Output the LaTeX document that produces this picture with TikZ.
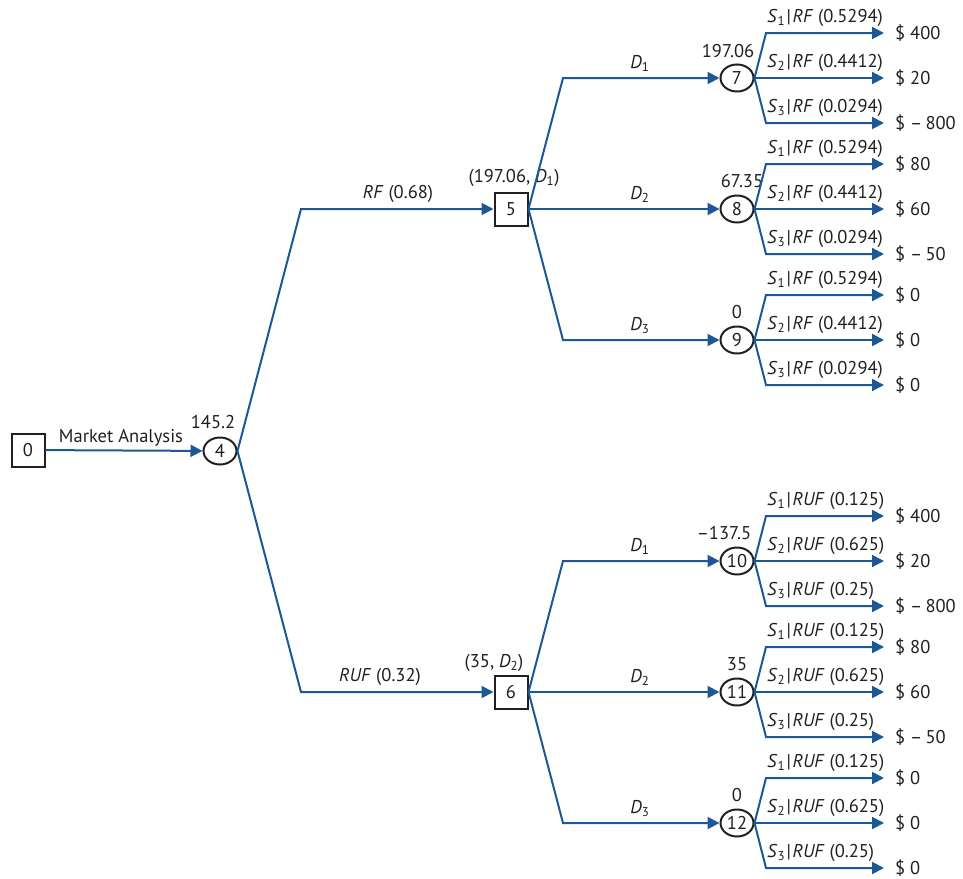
\documentclass[tikz,border=0pt]{standalone}
\usepackage{fontspec}
\setmainfont{PT Sans}
\usetikzlibrary{arrows.meta,shapes.geometric}
\definecolor{branch}{RGB}{28,88,150}
\definecolor{ink}{RGB}{35,31,32}
% conditional probability label: S_k | given (p)
\newcommand\condlabel[3]{\textit{S}\textsubscript{#1}\kern1.5pt|\kern1.5pt\textit{#2} (#3)}
\newcommand\dlabel[1]{\textit{D}\textsubscript{#1}}
% three state branches leaving a chance node: node, y, given, p1..p3, payoffs
\newcommand\outcomes[9]{%
  \foreach \k/\dy/\p/\v in {1/-45/#4/#7, 2/0/#5/#8, 3/45/#6/#9} {
    \coordinate (e#1\k) at (766,{#2+\dy});
    \coordinate (t#1\k) at (884,{#2+\dy});
    \draw[arr] (n#1.east) -- (e#1\k) -- (t#1\k);
    \node[lbl,anchor=base west] (s#1\k) at (767,{#2+\dy-11}) {\condlabel{\k}{#3}{\p}};
    \node[lbl,anchor=base west] (v#1\k) at (895,{#2+\dy+6}) {\v};
  }}
\begin{document}
\begin{tikzpicture}[x=1pt,y=-1pt,
  font=\fontsize{18.5}{22}\selectfont, text=ink,
  decision/.style={draw=ink,line width=2pt,minimum size=33pt,inner sep=0pt,fill=white},
  chance/.style={ellipse,draw=ink,line width=2pt,minimum width=33pt,minimum height=27pt,inner sep=0pt,fill=white},
  edge/.style={draw=branch,line width=2pt},
  arr/.style={edge,-{Triangle[length=12pt,width=12pt]}},
  lbl/.style={anchor=base,inner sep=0pt}]
\useasboundingbox (0,0) rectangle (963,878);

% decision and chance nodes
\node[decision] (n0) at (28,450) {0};
\node[chance] (n4) at (220,451) {4};
\node[decision] (n5) at (511,209) {5};
\node[decision] (n6) at (511,692) {6};
\foreach \n/\y in {7/78,8/209,9/340,10/561,11/692,12/823}
  \node[chance] (n\n) at (737,\y) {\n};

% market analysis
\draw[arr] (n0) -- (n4);
\node[lbl] (lma) at (121,442) {Market Analysis};
\node[lbl] (v4) at (213,428) {145.2};

% survey result branches
\coordinate (k5) at (301,209);
\coordinate (k6) at (301,692);
\draw[arr] (n4.east) -- (k5) -- (n5);
\draw[arr] (n4.east) -- (k6) -- (n6);
\node[lbl] (lrf) at (398,198) {\textit{RF} (0.68)};
\node[lbl] (lruf) at (380,681) {\textit{RUF} (0.32)};
\node[lbl] (v5) at (514,182) {(197.06, \dlabel{1})};
\node[lbl] (v6) at (494,667) {(35, \dlabel{2})};

% decision branches after a favourable report
\coordinate (k7) at (563,78);
\coordinate (k9) at (563,340);
\draw[arr] (n5.east) -- (k7) -- (n7);
\draw[arr] (n5.east) -- (n8);
\draw[arr] (n5.east) -- (k9) -- (n9);
\node[lbl] (d51) at (640,68) {\dlabel{1}};
\node[lbl] (d52) at (640,199) {\dlabel{2}};
\node[lbl] (d53) at (640,330) {\dlabel{3}};

% decision branches after an unfavourable report
\coordinate (k10) at (563,561);
\coordinate (k12) at (563,823);
\draw[arr] (n6.east) -- (k10) -- (n10);
\draw[arr] (n6.east) -- (n11);
\draw[arr] (n6.east) -- (k12) -- (n12);
\node[lbl] (d61) at (640,551) {\dlabel{1}};
\node[lbl] (d62) at (640,682) {\dlabel{2}};
\node[lbl] (d63) at (640,813) {\dlabel{3}};

% expected values of chance nodes
\node[lbl] (v7) at (728,57) {197.06};
\node[lbl] (v8) at (742,187) {67.35};
\node[lbl] (v9) at (737,318) {0};
\node[lbl] (v10) at (724,539) {–137.5};
\node[lbl] (v11) at (737,670) {35};
\node[lbl] (v12) at (737,801) {0};

% states of nature and payoffs
\outcomes{7}{78}{RF}{0.5294}{0.4412}{0.0294}{\$ 400}{\$ 20}{\$ –\,800}
\outcomes{8}{209}{RF}{0.5294}{0.4412}{0.0294}{\$ 80}{\$ 60}{\$ –\,50}
\outcomes{9}{340}{RF}{0.5294}{0.4412}{0.0294}{\$ 0}{\$ 0}{\$ 0}
\outcomes{10}{561}{RUF}{0.125}{0.625}{0.25}{\$ 400}{\$ 20}{\$ –\,800}
\outcomes{11}{692}{RUF}{0.125}{0.625}{0.25}{\$ 80}{\$ 60}{\$ –\,50}
\outcomes{12}{823}{RUF}{0.125}{0.625}{0.25}{\$ 0}{\$ 0}{\$ 0}
\end{tikzpicture}
\end{document}
